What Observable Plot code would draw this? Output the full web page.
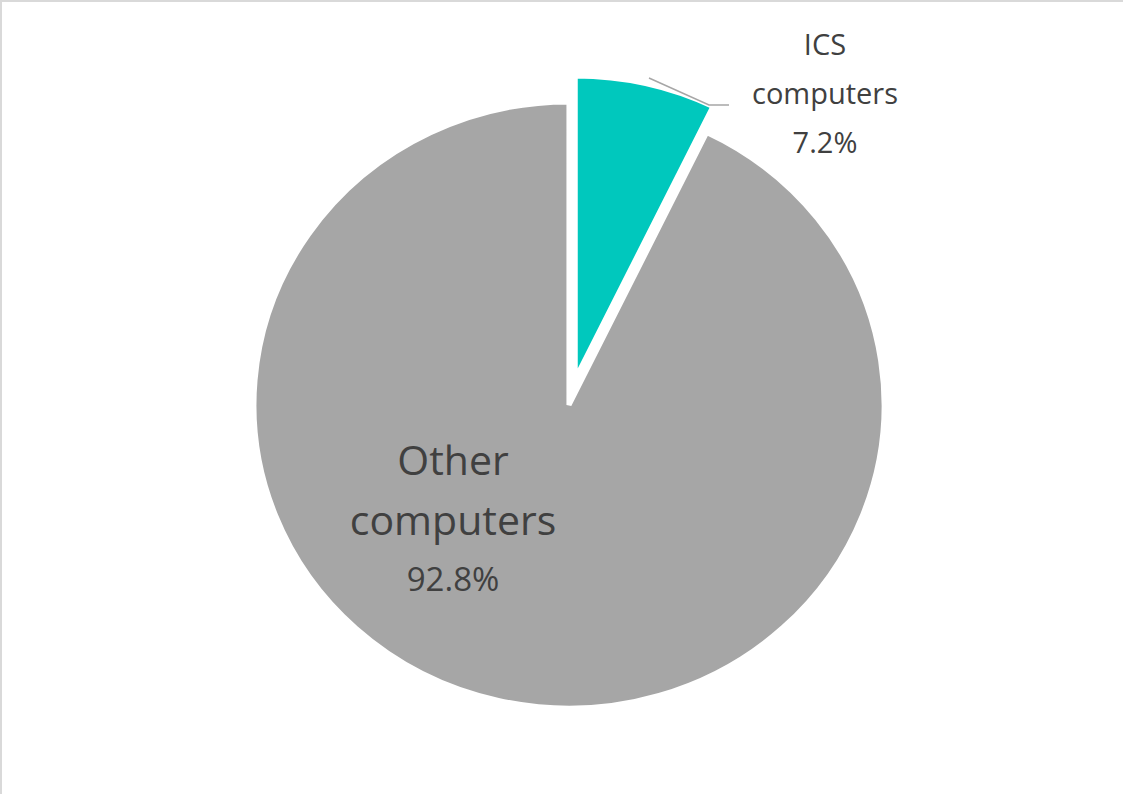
<!DOCTYPE html>
<html><head><meta charset="utf-8">
<script src="https://cdn.jsdelivr.net/npm/d3@7"></script>
<script src="https://cdn.jsdelivr.net/npm/@observablehq/plot@0.6"></script>
<style>body{margin:0;background:#fff}#chart{position:absolute;left:0;top:0;width:1121px;height:792px;border-top:2px solid #d9d9d9;border-left:2px solid #d9d9d9}</style>
</head><body><div id="chart"></div>
<script>
const categories = ["ICS computers", "Other computers"];
const shares = [7.2, 92.8];
const colors = ["#00c8bd", "#a6a6a6"];

const data = categories.map((c, i) => ({name: c, value: shares[i], color: colors[i]}));

// pie drawn as a custom render mark
function pieMark(index, scales, values, dim) {
  const cx = 567, cy = 403, r = 308;
  const arcs = d3.pie().sort(null).value(d => d.value)(data);
  const arc = d3.arc().innerRadius(0).outerRadius(r);
  const g = d3.create("svg:g").attr("transform", `translate(${cx},${cy})`);
  const pg = g.append("g").attr("transform", "scale(1.023,0.984)");
  arcs.forEach((a, i) => {
    const mid = (a.startAngle + a.endAngle) / 2;
    const off = i === 0 ? 27 : 0;
    pg.append("path")
      .attr("d", arc(a))
      .attr("fill", a.data.color)
      .attr("stroke", "#fff").attr("stroke-width", 5).attr("stroke-linejoin", "miter")
      .attr("transform", `translate(${off * Math.sin(mid)},${-off * Math.cos(mid)})`);
  });
  // ICS label with leader line
  const ics = arcs[0];
  g.append("polyline")
    .attr("points", `${80},${-327} ${140},${-300} ${160},${-300}`)
    .attr("fill", "none").attr("stroke", "#a6a6a6").attr("stroke-width", 1.5);
  const t1 = g.append("text").attr("text-anchor", "middle").attr("fill", "#404040")
    .attr("font-size", 29).attr("font-family", "Open Sans, sans-serif");
  [ics.data.name.split(" ")[0], ics.data.name.split(" ")[1], d3.format(".1f")(ics.data.value) + "%"]
    .forEach((s, k) => t1.append("tspan").attr("x", 256).attr("y", -350 + k * 49).text(s));
  // Other label
  const oth = arcs[1];
  const t2 = g.append("text").attr("text-anchor", "middle").attr("fill", "#404040")
    .attr("font-size", 41).attr("font-family", "Open Sans, sans-serif");
  [oth.data.name.split(" ")[0], oth.data.name.split(" ")[1], d3.format(".1f")(oth.data.value) + "%"]
    .forEach((s, k) => t2.append("tspan").attr("x", -116).attr("y", 70 + k * 60 - (k === 2 ? 4 : 0))
      .attr("font-size", k === 2 ? 33 : 41).text(s));
  return g.node();
}

const chart = Plot.plot({
  width: 1121, height: 792, margin: 0,
  x: {axis: null}, y: {axis: null},
  marks: [pieMark]
});
document.getElementById("chart").append(chart);
</script>
</body></html>
